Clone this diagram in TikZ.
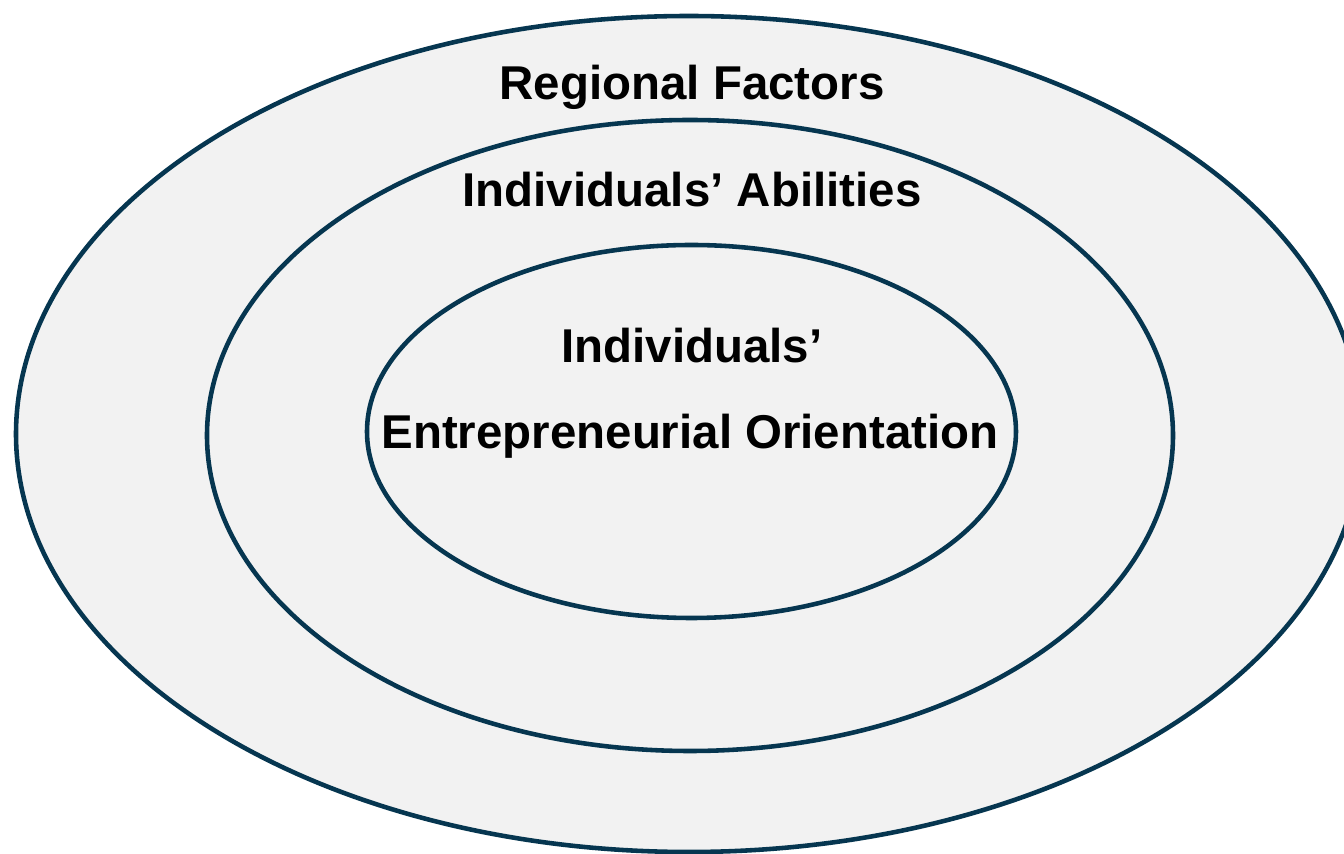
\documentclass[tikz,border=0pt]{standalone}
\usepackage{fontspec}
\setmainfont{Liberation Sans}

\definecolor{ringline}{RGB}{6,54,80}
\definecolor{ringfill}{RGB}{242,242,242}

\tikzset{
  ring/.style={draw=ringline,fill=ringfill,line width=1.3pt},
  ringlabel/.style={font=\fontsize{13.5}{16}\selectfont\bfseries,anchor=base,inner sep=0pt}
}

\begin{document}
\begin{tikzpicture}
\useasboundingbox (0,0) rectangle (13.44,8.54);
\clip (0,0) rectangle (13.44,8.54);
% three nested rings, outermost first
\draw[ring] (6.89,4.20) ellipse [x radius=6.73, y radius=4.18];
\draw[ring] (6.90,4.185) ellipse [x radius=4.83, y radius=3.155];
\draw[ring] (6.915,4.225) ellipse [x radius=3.245, y radius=1.865];
% labels
\node[ringlabel] (regional) at (6.92,7.54) {Regional Factors};
\node[ringlabel] (abilities) at (6.92,6.47) {Individuals’ Abilities};
\node[ringlabel] (orientTop) at (6.92,4.91) {Individuals’};
\node[ringlabel] (orient) at (6.90,4.05) {Entrepreneurial Orientation};
\end{tikzpicture}
\end{document}
